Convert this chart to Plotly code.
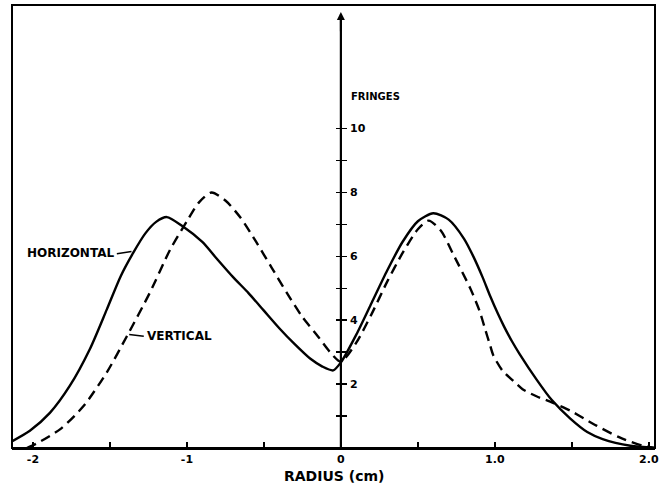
import plotly.graph_objects as go

# ---- data ----
radius_h = [-2.14, -2.02, -1.89, -1.76, -1.63, -1.52, -1.43, -1.35, -1.27, -1.2, -1.13,
            -1.03, -0.9, -0.81, -0.7, -0.6, -0.5, -0.4, -0.3, -0.2, -0.12, -0.05,
            0.0, 0.1, 0.2, 0.3, 0.4, 0.5, 0.6, 0.7, 0.8, 0.86, 0.92, 0.97, 1.02,
            1.06, 1.11, 1.16, 1.27, 1.37, 1.49, 1.6, 1.7, 1.88, 2.04]
fringes_h = [0.2, 0.54, 1.1, 1.95, 3.1, 4.34, 5.38, 6.1, 6.72, 7.08, 7.23,
             6.95, 6.45, 5.95, 5.35, 4.85, 4.3, 3.75, 3.25, 2.8, 2.55, 2.43,
             2.68, 3.55, 4.55, 5.55, 6.45, 7.1, 7.35, 7.15, 6.55, 6.0, 5.35, 4.75, 4.2,
             3.8, 3.35, 2.95, 2.15, 1.5, 0.92, 0.5, 0.28, 0.07, 0.0]

radius_v = [-2.04, -1.98, -1.82, -1.67, -1.52, -1.39, -1.24, -1.11, -1.0, -0.92,
            -0.84, -0.75, -0.65, -0.55, -0.45, -0.35, -0.25, -0.15, -0.07, 0.0,
            0.1, 0.2, 0.3, 0.4, 0.5, 0.57, 0.65, 0.73, 0.84, 0.9, 0.935, 0.97,
            0.99, 1.05, 1.12, 1.18, 1.27, 1.37, 1.49, 1.58, 1.66, 1.81, 1.96, 2.04]
fringes_v = [0.0, 0.13, 0.6, 1.32, 2.37, 3.5, 4.87, 6.2, 7.1, 7.7,
             8.0, 7.75, 7.2, 6.45, 5.65, 4.85, 4.1, 3.5, 3.0, 2.7,
             3.3, 4.2, 5.2, 6.1, 6.85, 7.12, 6.8, 6.06, 5.0, 4.3, 3.75, 3.2,
             2.9, 2.42, 2.1, 1.84, 1.62, 1.43, 1.17, 0.92, 0.70, 0.33, 0.07, 0.0]

x_tickvals = [-2, -1.5, -1, -0.5, 0, 0.5, 1, 1.5, 2]
x_ticktext = ["-2", "", "-1", "", "0", "", "1.0", "", "2.0"]
y_tickvals = [1, 2, 3, 4, 5, 6, 7, 8, 9, 10]
y_ticktext = ["", "2", "", "4", "", "6", "", "8", "", "10"]

FONT = "DejaVu Sans"
X_RANGE = [-2.136, 2.04]
Y_RANGE = [0, 13.87]
Y_POS = (0 - X_RANGE[0]) / (X_RANGE[1] - X_RANGE[0])

fig = go.Figure()
fig.add_trace(go.Scatter(x=radius_h, y=fringes_h, mode="lines",
                         line=dict(color="black", width=2.4, shape="spline", smoothing=0.7),
                         showlegend=False, hoverinfo="skip"))
fig.add_trace(go.Scatter(x=radius_v, y=fringes_v, mode="lines",
                         line=dict(color="black", width=2.4, dash="10px,6px",
                                   shape="spline", smoothing=0.7),
                         showlegend=False, hoverinfo="skip"))
fig.add_trace(go.Scatter(x=[None], y=[None], yaxis="y2", showlegend=False))

fig.update_layout(
    template="none",
    width=665, height=489,
    margin=dict(l=12, r=10, t=5, b=41),
    paper_bgcolor="white", plot_bgcolor="white",
    font=dict(family=FONT, color="black"),
    xaxis=dict(range=X_RANGE, tickvals=x_tickvals, ticktext=x_ticktext,
               ticks="inside", ticklen=6, tickwidth=1.5, tickcolor="black",
               showline=True, linecolor="black", linewidth=2,
               showgrid=False, zeroline=False, automargin=False,
               tickfont=dict(size=11, family=FONT, weight="bold")),
    yaxis=dict(range=Y_RANGE, tickvals=y_tickvals, ticktext=y_ticktext,
               anchor="free", position=Y_POS, automargin=False,
               side="right", ticks="outside", ticklen=5, tickwidth=1.5,
               tickcolor="black", showline=False, showgrid=False, zeroline=False,
               ticklabelstandoff=1,
               tickfont=dict(size=11, family=FONT, weight="bold")),
    yaxis2=dict(range=Y_RANGE, tickvals=y_tickvals, showticklabels=False,
                overlaying="y", anchor="free", position=Y_POS, automargin=False,
                side="left", ticks="outside", ticklen=5, tickwidth=1.5,
                tickcolor="black", showline=False, showgrid=False, zeroline=False),
)

# frame
fig.add_shape(type="rect", xref="paper", yref="paper", x0=0, x1=1, y0=0, y1=1,
              line=dict(color="black", width=2))
# central fringe axis with arrow
fig.add_shape(type="line", xref="x", yref="y", x0=0, x1=0, y0=0, y1=13.5,
              line=dict(color="black", width=2.2))
fig.add_annotation(x=0, y=13.65, ax=0, ay=13.0, axref="x", ayref="y",
                   xref="x", yref="y", text="", showarrow=True,
                   arrowhead=2, arrowsize=0.8, arrowwidth=2, arrowcolor="black")

# x-axis title
fig.add_annotation(x=0.5, y=-0.063, xref="paper", yref="paper", text="RADIUS (cm)",
                   showarrow=False, xanchor="center", yanchor="middle",
                   font=dict(size=14, family=FONT, weight="bold"))

# labels
fig.add_annotation(x=0.055, y=11.0, xref="x", yref="y", text="FRINGES",
                   showarrow=False, xanchor="left", yanchor="middle",
                   font=dict(size=10, family=FONT, weight="bold"))
fig.add_annotation(x=-1.46, y=6.1, xref="x", yref="y", text="HORIZONTAL",
                   showarrow=False, xanchor="right", yanchor="middle",
                   font=dict(size=12, family=FONT, weight="bold"))
fig.add_shape(type="line", xref="x", yref="y", x0=-1.455, x1=-1.36, y0=6.08, y1=6.15,
              line=dict(color="black", width=1.5))
fig.add_annotation(x=-1.27, y=3.5, xref="x", yref="y", text="VERTICAL",
                   showarrow=False, xanchor="left", yanchor="middle",
                   font=dict(size=12, family=FONT, weight="bold"))
fig.add_shape(type="line", xref="x", yref="y", x0=-1.375, x1=-1.28, y0=3.55, y1=3.5,
              line=dict(color="black", width=1.5))

fig.write_html("out.html",
               config={"displayModeBar": False, "staticPlot": True},
               post_script="document.body.style.margin='0';document.body.style.padding='0';")
